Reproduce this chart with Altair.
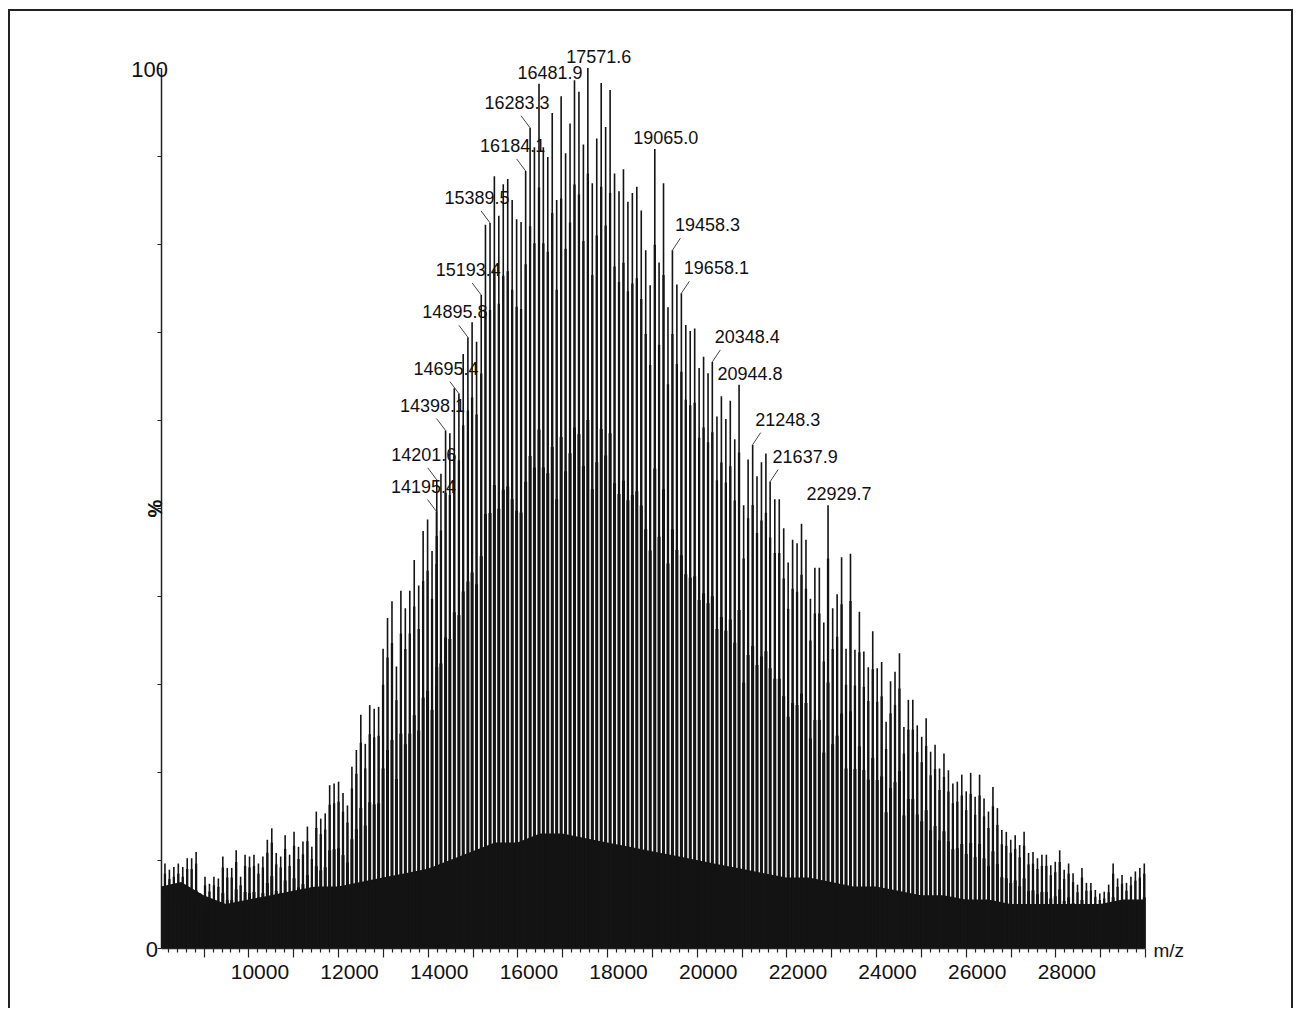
import altair as alt
import pandas as pd

# ---------------- data ----------------
# main peak series (m/z, relative intensity %)
peak_mz = [
    8138.1, 8237.4, 8336.7, 8436.0, 8535.3, 8634.6, 8733.9, 8833.2, 8932.5, 9031.8,
    9131.1, 9230.4, 9329.7, 9429.0, 9528.3, 9627.6, 9726.9, 9826.2, 9925.5, 10024.8,
    10124.1, 10223.4, 10322.7, 10422.0, 10521.3, 10620.6, 10719.9, 10819.2, 10918.5, 11017.8,
    11117.1, 11216.4, 11315.7, 11415.0, 11514.3, 11613.6, 11712.9, 11812.2, 11911.5, 12010.8,
    12110.1, 12209.4, 12308.7, 12408.0, 12507.3, 12606.6, 12705.9, 12805.2, 12904.5, 13003.8,
    13103.1, 13202.4, 13301.7, 13401.0, 13500.3, 13599.6, 13698.9, 13798.2, 13897.5, 13996.8,
    14096.1, 14195.4, 14201.6, 14294.7, 14398.1, 14493.3, 14592.6, 14695.4, 14791.2, 14895.8, 14989.8,
    15089.1, 15193.4, 15287.7, 15389.5, 15486.3, 15585.6, 15684.9, 15784.2, 15883.5, 15982.8,
    16082.1, 16184.1, 16283.3, 16380.0, 16481.9, 16578.6, 16677.9, 16777.2, 16876.5, 16975.8,
    17075.1, 17174.4, 17273.7, 17373.0, 17472.3, 17571.6, 17670.9, 17770.2, 17869.5, 17968.8,
    18068.1, 18167.4, 18266.7, 18366.0, 18465.3, 18564.6, 18663.9, 18763.2, 18862.5, 18961.8,
    19065.0, 19160.4, 19259.7, 19359.0, 19458.3, 19557.6, 19658.1, 19756.2, 19855.5, 19954.8,
    20054.1, 20153.4, 20252.7, 20348.4, 20451.3, 20550.6, 20649.9, 20749.2, 20848.5, 20944.8,
    21047.1, 21146.4, 21248.3, 21345.0, 21444.3, 21543.6, 21637.9, 21742.2, 21841.5, 21940.8,
    22040.1, 22139.4, 22238.7, 22338.0, 22437.3, 22536.6, 22635.9, 22735.2, 22834.5, 22929.7,
    23033.1, 23132.4, 23231.7, 23331.0, 23430.3, 23529.6, 23628.9, 23728.2, 23827.5, 23926.8,
    24026.1, 24125.4, 24224.7, 24324.0, 24423.3, 24522.6, 24621.9, 24721.2, 24820.5, 24919.8,
    25019.1, 25118.4, 25217.7, 25317.0, 25416.3, 25515.6, 25614.9, 25714.2, 25813.5, 25912.8,
    26012.1, 26111.4, 26210.7, 26310.0, 26409.3, 26508.6, 26607.9, 26707.2, 26806.5, 26905.8,
    27005.1, 27104.4, 27203.7, 27303.0, 27402.3, 27501.6, 27600.9, 27700.2, 27799.5, 27898.8,
    27998.1, 28097.4, 28196.7, 28296.0, 28395.3, 28494.6, 28593.9, 28693.2, 28792.5, 28891.8,
    28991.1, 29090.4, 29189.7, 29289.0, 29388.3, 29487.6, 29586.9, 29686.2, 29785.5, 29884.8,
    29984.1,
]
peak_pct = [
    9.6, 8.9, 9.2, 9.6, 9.2, 10.2, 10.2, 10.9, 6.2, 8.1,
    7.3, 8.1, 7.9, 10.4, 9.1, 9.1, 11.1, 8.1, 10.6, 10.4,
    10.6, 9.6, 10.4, 12.3, 13.6, 10.8, 10.4, 12.8, 10.6, 13.2,
    11.5, 12.1, 13.8, 11.5, 15.5, 14.7, 15.3, 18.5, 18.7, 18.9,
    17.6, 16.2, 20.6, 22.5, 26.5, 23.2, 27.6, 27.2, 27.4, 34.0,
    37.5, 39.4, 32.0, 40.6, 38.6, 40.6, 44.1, 41.2, 47.4, 48.7,
    45.1, 49.6, 53.2, 53.9, 58.8, 58.5, 63.6, 63.0, 67.5, 69.4, 71.1,
    68.9, 74.2, 82.2, 82.4, 87.7, 83.2, 86.8, 87.4, 85.0, 82.8,
    82.5, 88.3, 93.2, 91.0, 98.2, 91.0, 89.9, 94.9, 85.0, 96.8,
    90.3, 93.7, 98.6, 97.3, 91.3, 100.0, 86.9, 92.0, 98.3, 93.3,
    97.5, 88.0, 86.0, 88.5, 84.8, 85.8, 86.5, 83.8, 79.3, 75.3,
    90.8, 77.9, 86.9, 72.8, 79.3, 75.4, 74.4, 70.8, 70.1, 70.4,
    65.9, 67.2, 65.3, 66.6, 60.4, 62.7, 60.1, 62.2, 57.8, 64.0,
    50.3, 55.5, 57.2, 53.6, 55.2, 56.2, 53.0, 51.0, 51.0, 47.7,
    43.8, 46.4, 46.0, 48.2, 46.4, 39.7, 43.2, 43.2, 37.0, 50.3,
    38.6, 40.2, 44.4, 34.0, 44.8, 33.9, 38.2, 33.7, 31.9, 36.0,
    31.8, 32.5, 25.7, 30.3, 31.4, 33.5, 25.1, 28.2, 28.2, 25.3,
    24.0, 26.1, 22.3, 23.1, 20.4, 22.1, 20.2, 18.7, 18.9, 19.7,
    17.8, 19.9, 17.2, 19.7, 17.0, 15.5, 18.3, 15.9, 13.4, 13.2,
    12.3, 12.8, 11.7, 13.2, 10.8, 10.9, 10.2, 10.6, 10.6, 9.4,
    9.8, 11.1, 8.9, 9.6, 8.5, 7.2, 9.1, 7.4, 7.4, 6.6,
    6.2, 6.4, 7.2, 9.6, 7.9, 8.3, 7.4, 8.1, 8.7, 9.1,
    9.6,
]
assert len(peak_mz) == len(peak_pct)

# dense noise floor under the peaks (m/z, %)
noise_mz = [8050, 8500, 9000, 9500, 10000, 10500, 11000, 11500, 12000, 12500,
            13000, 13500, 14000, 14500, 15000, 15500, 16000, 16500, 17000, 17500,
            18000, 18500, 19000, 19500, 20000, 20500, 21000, 21500, 22000, 22500,
            23000, 23500, 24000, 24500, 25000, 25500, 26000, 26500, 27000, 27500,
            28000, 28500, 29000, 29500, 30000]
noise_pct = [7.0, 7.5, 6.0, 5.0, 5.5, 6.0, 6.5, 7.0, 7.0, 7.5,
             8.0, 8.5, 9.0, 10.0, 11.0, 12.0, 12.0, 13.0, 13.0, 12.5,
             12.0, 11.5, 11.0, 10.5, 10.0, 9.5, 9.0, 8.5, 8.0, 8.0,
             7.5, 7.0, 7.0, 6.5, 6.0, 6.0, 5.5, 5.5, 5.0, 5.0,
             5.0, 5.0, 5.0, 5.5, 5.5]

# annotated peaks
label_mz = [14195.4, 14201.6, 14398.1, 14695.4, 14895.8, 15193.4, 15389.5,
            16184.1, 16283.3, 16481.9, 17571.6, 19065.0, 19458.3, 19658.1,
            20348.4, 20944.8, 21248.3, 21637.9, 22929.7]

y_tick_labels = [0, 100]
x_tick_values = list(range(8200, 30001, 200))

# ---------------- layout / style ----------------
label_side = ["left"] * 9 + ["up", "up", "up", "right", "right", "right",
                             "up", "right", "right", "up"]
W, H = 984, 880
X_DOMAIN = [8050, 30000]
px_per_da = W / (X_DOMAIN[1] - X_DOMAIN[0])
px_per_pct = H / 100.0
OFFS = {"left": ((-13, -24), (-9, -12)),
        "right": ((35, -24), (8, -12)),
        "up": ((11, -10), None)}
FONT = "Liberation Sans"
INK = "#141414"

peaks = pd.DataFrame({"mz": peak_mz, "pct": peak_pct})
noise = pd.DataFrame({"mz": noise_mz, "pct": noise_pct})
height_of = dict(zip(peak_mz, peak_pct))
text_rows, lead_rows = [], []
for mz, side in zip(label_mz, label_side):
    p = height_of[mz]
    (tdx, tdy), lead = OFFS[side]
    text_rows.append({"tx": mz + tdx / px_per_da, "ty": p - tdy / px_per_pct,
                      "text": f"{mz:.1f}"})
    if lead:
        lead_rows.append({"mz": mz, "pct": p, "lx": mz + lead[0] / px_per_da,
                          "ly": p - lead[1] / px_per_pct})
texts = pd.DataFrame(text_rows)
leads = pd.DataFrame(lead_rows)
ylab = pd.DataFrame({"v": y_tick_labels, "t": [str(v) for v in y_tick_labels]})

xs = alt.Scale(domain=X_DOMAIN, nice=False, zero=False)
ys = alt.Scale(domain=[0, 100], nice=False)

x_axis = alt.Axis(
    values=x_tick_values, format="d",
    labelExpr="datum.value % 2000 === 0 && datum.value < 29000 ? datum.label : ''",
    tickSize={"condition": {"test": "datum.value % 1000 === 0", "value": 9}, "value": 4},
    tickColor="#222", tickWidth=1.2, domainColor="#222", domainWidth=1.5,
    labelFont=FONT, labelFontSize=21, labelColor="#111", labelPadding=4,
    labelOffset=11, labelOverlap=False, labelFlush=False, grid=False,
    title="m/z", titleX=W + 8, titleY=2, titleAlign="left", titleBaseline="middle",
    titleFont=FONT, titleFontSize=19, titleFontWeight="normal", titleColor="#111",
)
y_axis = alt.Axis(
    values=list(range(0, 101, 10)), labels=False, tickSize=4, tickColor="#222",
    domainColor="#222", domainWidth=1.5, grid=False,
    title="%", titleX=-6, titleY=H / 2, titleAngle=270, titleAlign="center",
    titleBaseline="middle", titleFont=FONT, titleFontSize=20,
    titleFontWeight="bold", titleColor="#111",
)


def X(field):
    return alt.X(field, scale=xs, axis=x_axis)


def Y(field):
    return alt.Y(field, scale=ys, axis=y_axis)


noise_layer = alt.Chart(noise).mark_area(color=INK, interpolate="linear").encode(
    x=X("mz:Q"), y=Y("pct:Q"), y2=alt.datum(0),
)
# peak stems: thin to the apex, broadening toward the base (profile peaks)
peak_thin = alt.Chart(peaks).mark_rule(color=INK, strokeWidth=1.6).encode(
    x=X("mz:Q"), y=Y("pct:Q"), y2=alt.datum(0),
)
peak_mid = alt.Chart(peaks).transform_calculate(
    body="datum.pct * 0.88"
).mark_rule(color=INK, strokeWidth=2.3).encode(
    x=X("mz:Q"), y=Y("body:Q"), y2=alt.datum(0),
)
peak_base = alt.Chart(peaks).transform_calculate(
    body="datum.pct * 0.6"
).mark_rule(color=INK, strokeWidth=3.0).encode(
    x=X("mz:Q"), y=Y("body:Q"), y2=alt.datum(0),
)
lead_layer = alt.Chart(leads).mark_rule(color="#444", strokeWidth=1).encode(
    x=X("mz:Q"), y=Y("pct:Q"), x2="lx:Q", y2="ly:Q",
)
text_layer = alt.Chart(texts).mark_text(
    font=FONT, fontSize=18, color="#111", align="center", baseline="middle"
).encode(x=X("tx:Q"), y=Y("ty:Q"), text="text:N")
ylab0 = alt.Chart(ylab).transform_filter("datum.v == 0").mark_text(
    font=FONT, fontSize=22, color="#111", align="right", baseline="middle", dy=2
).encode(x=alt.value(-3), y=Y("v:Q"), text="t:N")
ylab100 = alt.Chart(ylab).transform_filter("datum.v == 100").mark_text(
    font=FONT, fontSize=22, color="#111", align="right", baseline="middle", dy=2
).encode(x=alt.value(7), y=Y("v:Q"), text="t:N")
frame = alt.Chart(alt.Data(values=[{"a": 1}])).mark_rect(
    fillOpacity=0, stroke="#222", strokeWidth=2
).encode(x=alt.value(-152), x2=alt.value(1131), y=alt.value(-58), y2=alt.value(1100))

chart = alt.layer(
    noise_layer, peak_base, peak_mid, peak_thin, lead_layer, text_layer,
    ylab0, ylab100, frame
).properties(
    width=W, height=H,
    autosize=alt.AutoSizeParams(type="none"),
    padding={"left": 153, "top": 60, "right": 148, "bottom": 60},
    background="white",
).configure_view(stroke=None)

chart.save("out.html", embed_options={"renderer": "svg", "actions": False})
